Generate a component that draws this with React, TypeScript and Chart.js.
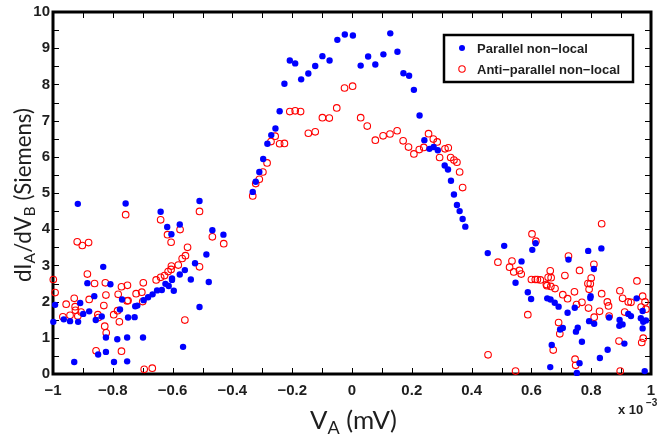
import React, { useEffect, useRef } from "react";
import { Chart, registerables } from "chart.js";

Chart.register(...registerables);

const xTickValues = [-1, -0.8, -0.6, -0.4, -0.2, 0, 0.2, 0.4, 0.6, 0.8, 1];
const yTickValues = [0, 1, 2, 3, 4, 5, 6, 7, 8, 9, 10];
const seriesLabels = ["Parallel non\u2212local", "Anti\u2212parallel non\u2212local"];

const parallelX = [
  -0.999, -0.993, -0.964, -0.943, -0.929, -0.917, -0.916, -0.909, -0.899, -0.885, -0.879, -0.862, -0.857, -0.849,
  -0.837, -0.832, -0.823, -0.823, -0.808, -0.796, -0.785, -0.776, -0.769, -0.757, -0.752, -0.752, -0.749, -0.727,
  -0.725, -0.718, -0.699, -0.697, -0.682, -0.667, -0.652, -0.64, -0.636, -0.624, -0.618, -0.613, -0.604, -0.602,
  -0.602, -0.596, -0.576, -0.576, -0.565, -0.559, -0.539, -0.525, -0.51, -0.51, -0.487, -0.479, -0.467, -0.43,
  -0.332, -0.322, -0.31, -0.297, -0.283, -0.27, -0.256, -0.242, -0.226, -0.208, -0.19, -0.17, -0.146, -0.123,
  -0.099, -0.075, -0.049, -0.024, 0.003, 0.029, 0.054, 0.078, 0.105, 0.128, 0.152, 0.172, 0.191, 0.207, 0.226,
  0.242, 0.259, 0.273, 0.287, 0.31, 0.321, 0.331, 0.341, 0.351, 0.36, 0.37, 0.379,
  0.454, 0.509, 0.547, 0.567, 0.588, 0.599, 0.603, 0.614, 0.653, 0.663, 0.664, 0.668, 0.678, 0.691, 0.696, 0.705,
  0.721, 0.724, 0.745, 0.749, 0.752, 0.755, 0.761, 0.769, 0.79, 0.793, 0.797, 0.798, 0.809, 0.81, 0.829, 0.834,
  0.855, 0.86, 0.894, 0.895, 0.905, 0.911, 0.924, 0.933, 0.952, 0.966, 0.972, 0.972, 0.974, 0.979, 0.983,
];
const parallelY = [
  1.44, 1.91, 1.51, 1.46, 0.33, 4.7, 1.44, 1.96, 1.66, 2.51, 1.73, 2.15, 1.49, 0.54,
  1.59, 2.96, 1.01, 0.61, 2.48, 0.33, 0.96, 1.78, 2.06, 4.71, 1.01, 0.35, 1.56, 1.57,
  1.87, 1.89, 1.01, 2.04, 2.12, 2.2, 2.31, 4.48, 2.32, 2.49, 4.06, 2.43, 3.86, 2.6,
  2.64, 2.3, 4.13, 2.75, 0.75, 2.87, 2.61, 3.06, 4.78, 1.85, 3.3, 2.54, 3.97, 3.85,
  5.03, 5.31, 5.58, 5.94, 6.36, 6.6, 6.78, 7.26, 8.02, 8.66, 8.58, 8.14, 8.3, 8.51,
  8.78, 8.66, 9.23, 9.38, 9.35, 8.52, 8.77, 8.55, 8.83, 9.41, 8.9, 8.31, 8.24, 7.85, 7.14,
  6.46, 6.22, 6.27, 6.18, 5.76, 5.65, 5.34, 4.96, 4.67, 4.5, 4.28, 4.07,
  3.34, 3.54, 2.52, 3.11, 2.26, 2.07, 3.43, 3.61, 2.09, 0.19, 2.06, 0.8, 1.97, 1.86, 1.23, 1.27,
  1.69, 3.16, 1.83, 1.17, 0.03, 1.28, 0.3, 0.89, 3.4, 1.46, 2.1, 2.15, 2.9, 1.39, 0.44, 3.47,
  0.67, 1.56, 1.33, 1.49, 1.37, 0.84, 1.66, 1.6, 2.09, 1.54, 1.26, 1.74, 1.44, 0.08, 1.48,
];

const antiX = [
  -0.999, -0.993, -0.967, -0.956, -0.943, -0.929, -0.926, -0.925, -0.919, -0.917, -0.906, -0.902, -0.885, -0.881,
  -0.879, -0.861, -0.856, -0.85, -0.848, -0.83, -0.827, -0.825, -0.823, -0.822, -0.797, -0.784, -0.782, -0.778,
  -0.771, -0.771, -0.757, -0.752, -0.751, -0.749, -0.722, -0.703, -0.7, -0.698, -0.695, -0.668, -0.655, -0.64,
  -0.64, -0.627, -0.617, -0.615, -0.605, -0.605, -0.604, -0.581, -0.575, -0.568, -0.559, -0.557, -0.55, -0.51,
  -0.51, -0.467, -0.429,
  -0.332, -0.322, -0.31, -0.298, -0.284, -0.271, -0.257, -0.242, -0.226, -0.208, -0.19, -0.172, -0.146, -0.123,
  -0.099, -0.076, -0.051, -0.025, 0.002, 0.029, 0.051, 0.078, 0.104, 0.127, 0.151, 0.171, 0.189, 0.207, 0.225,
  0.24, 0.256, 0.272, 0.285, 0.293, 0.311, 0.322, 0.33, 0.341, 0.351, 0.36, 0.37,
  0.455, 0.488, 0.527, 0.535, 0.541, 0.547, 0.56, 0.566, 0.588, 0.6, 0.602, 0.613, 0.615, 0.62, 0.63, 0.65,
  0.652, 0.656, 0.663, 0.665, 0.666, 0.673, 0.679, 0.691, 0.695, 0.705, 0.712, 0.721, 0.724, 0.744, 0.746, 0.748,
  0.751, 0.761, 0.769, 0.789, 0.791, 0.793, 0.797, 0.8, 0.809, 0.81, 0.828, 0.835, 0.835, 0.854, 0.858, 0.86,
  0.893, 0.896, 0.897, 0.905, 0.912, 0.924, 0.933, 0.953, 0.967, 0.969, 0.972, 0.974, 0.98, 0.983,
];
const antiY = [
  2.61, 2.25, 1.58, 1.93, 1.62, 2.09, 1.86, 1.76, 3.65, 1.6, 1.71, 3.55, 2.76, 3.63,
  2.06, 2.5, 0.64, 1.64, 1.56, 1.89, 1.32, 2.52, 2.18, 1.14, 1.64, 1.75, 2.2, 1.44,
  2.41, 0.63, 4.4, 2.02, 2.45, 2.03, 2.22, 2.26, 2.0, 2.52, 0.13, 0.16, 2.6, 4.26,
  2.67, 2.72, 3.85, 2.83, 3.64, 2.89, 2.98, 3.01, 3.99, 3.19, 1.49, 3.27, 3.5, 4.49,
  2.96, 3.79, 3.6,
  4.92, 5.26, 5.38, 5.58, 5.83, 6.42, 6.57, 6.36, 6.37, 7.25, 7.27, 7.25, 6.65, 6.69,
  7.08, 7.07, 7.35, 7.9, 7.95, 7.08, 6.85, 6.46, 6.58, 6.63, 6.72, 6.44, 6.27, 6.08, 6.2,
  6.26, 6.64, 6.49, 6.41, 5.98, 6.22, 6.25, 5.98, 5.91, 5.85, 5.58, 5.15,
  0.53, 3.09, 2.95, 3.12, 2.82, 0.08, 2.86, 2.76, 1.64, 2.61, 3.87, 2.61, 3.67, 2.61, 2.6, 2.47,
  2.44, 2.67, 2.85, 2.42, 2.66, 0.66, 2.36, 1.42, 1.11, 2.19, 2.72, 2.08, 3.26, 2.27, 0.41, 0.24,
  1.92, 2.86, 1.98, 2.5, 1.82, 2.34, 2.49, 2.65, 3.03, 1.57, 1.73, 4.15, 2.22, 1.99, 1.88, 1.6,
  0.91, 2.3, 0.08, 2.09, 1.71, 1.99, 1.98, 2.57, 1.85, 0.87, 2.15, 0.99, 1.99, 1.79,
];

const TEXT = "#1e1e1e";
const TICK_FONT = "'Liberation Sans', Arial, Helvetica, sans-serif";
const TITLE_FONT = "Lato, 'Open Sans', sans-serif";

function fmtTick(v: number): string {
  const r = Math.round(v * 10) / 10;
  if (r < 0) return "\u2212" + String(Math.abs(r));
  return String(r);
}

type Seg = { t: string; sub?: boolean };

// draws text segments centred at the origin, scaled so the total width matches `target`
function drawSegs(ctx: CanvasRenderingContext2D, segs: Seg[], target: number) {
  const base = 24;
  const measure = (size: number) => {
    let total = 0;
    for (const s of segs) {
      ctx.font = `${s.sub ? size * 0.7 : size}px ${TITLE_FONT}`;
      total += ctx.measureText(s.t).width;
    }
    return total;
  };
  const w0 = measure(base);
  const size = Math.max(16, Math.min(30, (base * target) / w0));
  const total = measure(size);
  let x = -total / 2;
  for (const s of segs) {
    ctx.font = `${s.sub ? size * 0.7 : size}px ${TITLE_FONT}`;
    ctx.fillText(s.t, x, s.sub ? size * 0.2 : 0);
    x += ctx.measureText(s.t).width;
  }
}

const framePlugin = {
  id: "frame",
  beforeDatasetsDraw(chart: any) {
    const { ctx, chartArea: a, scales } = chart;
    ctx.save();
    ctx.strokeStyle = "#000";
    ctx.lineWidth = 1;
    for (let i = -10; i <= 10; i++) {
      const px = Math.round(scales.x.getPixelForValue(i / 10)) + 0.5;
      ctx.beginPath();
      ctx.moveTo(px, a.bottom);
      ctx.lineTo(px, a.bottom - 6);
      ctx.moveTo(px, a.top);
      ctx.lineTo(px, a.top + 6);
      ctx.stroke();
    }
    for (let i = 0; i <= 20; i++) {
      const py = Math.round(scales.y.getPixelForValue(i / 2)) + 0.5;
      ctx.beginPath();
      ctx.moveTo(a.left, py);
      ctx.lineTo(a.left + 6, py);
      ctx.moveTo(a.right, py);
      ctx.lineTo(a.right - 6, py);
      ctx.stroke();
    }
    ctx.lineWidth = 3;
    ctx.strokeRect(a.left, a.top, a.right - a.left, a.bottom - a.top);
    ctx.restore();
  },
  afterDraw(chart: any) {
    const { ctx } = chart;
    ctx.save();
    ctx.fillStyle = TEXT;
    ctx.textBaseline = "alphabetic";
    ctx.textAlign = "left";
    // x title
    ctx.save();
    ctx.translate(353.5, 429);
    drawSegs(ctx, [{ t: "V" }, { t: "A", sub: true }, { t: " (mV)" }], 87);
    ctx.restore();
    // y title
    ctx.save();
    ctx.translate(31, 195);
    ctx.rotate(-Math.PI / 2);
    drawSegs(ctx, [{ t: "dI" }, { t: "A", sub: true }, { t: "/dV" }, { t: "B", sub: true }, { t: " (Siemens)" }], 174);
    ctx.restore();
    // exponent
    ctx.font = `bold 13px ${TICK_FONT}`;
    ctx.fillText("x 10", 618, 414);
    ctx.font = `bold 10px ${TICK_FONT}`;
    ctx.fillText("\u22123", 646, 406);

    // legend
    const lx = 444, ly = 35, lw = 189, lh = 47;
    ctx.fillStyle = "#fff";
    ctx.fillRect(lx, ly, lw, lh);
    ctx.strokeStyle = "#000";
    ctx.lineWidth = 2.5;
    ctx.strokeRect(lx, ly, lw, lh);
    const ds = chart.data.datasets;
    const rows = [48, 69];
    for (let i = 0; i < 2; i++) {
      const d = ds[i];
      ctx.beginPath();
      ctx.arc(462, rows[i], i === 0 ? 3 : 3.2, 0, Math.PI * 2);
      if (i === 0) {
        ctx.fillStyle = d.backgroundColor;
        ctx.fill();
      } else {
        ctx.strokeStyle = d.borderColor;
        ctx.lineWidth = 1.1;
        ctx.stroke();
      }
      ctx.fillStyle = TEXT;
      ctx.font = `bold 13px ${TICK_FONT}`;
      ctx.textBaseline = "middle";
      ctx.fillText(d.label, 477, rows[i] + 1);
    }
    ctx.restore();
  },
};

export default function App() {
  const ref = useRef<HTMLCanvasElement>(null);
  useEffect(() => {
    const canvas = ref.current;
    if (!canvas) return;
    const chart = new Chart(canvas, {
      type: "scatter",
      data: {
        datasets: [
          {
            label: seriesLabels[0],
            data: parallelX.map((x, i) => ({ x, y: parallelY[i] })),
            pointRadius: 3.2,
            pointBackgroundColor: "#0000ff",
            pointBorderColor: "#0000ff",
            pointBorderWidth: 0,
            backgroundColor: "#0000ff",
            borderColor: "#0000ff",
            clip: false,
          } as any,
          {
            label: seriesLabels[1],
            data: antiX.map((x, i) => ({ x, y: antiY[i] })),
            pointRadius: 3.3,
            pointBackgroundColor: "rgba(0,0,0,0)",
            pointBorderColor: "#ff0000",
            pointBorderWidth: 1.1,
            backgroundColor: "rgba(0,0,0,0)",
            borderColor: "#ff0000",
            clip: false,
          } as any,
        ],
      },
      options: {
        responsive: false,
        animation: false,
        devicePixelRatio: 1,
        layout: { padding: { left: 0, top: 12, right: 16, bottom: 0 } },
        plugins: { legend: { display: false }, tooltip: { enabled: false } },
        scales: {
          x: {
            type: "linear",
            min: -1,
            max: 1,
            afterFit: (s: any) => {
              s.height = 68;
            },
            afterBuildTicks: (s: any) => {
              s.ticks = xTickValues.map((v) => ({ value: v }));
            },
            grid: { display: false, drawTicks: false },
            border: { display: false },
            ticks: {
              callback: (v: any) => fmtTick(Number(v)),
              font: { family: TICK_FONT, weight: "bold", size: 15 },
              color: TEXT,
              padding: 8,
              maxRotation: 0,
              autoSkip: false,
            },
          },
          y: {
            type: "linear",
            min: 0,
            max: 10,
            afterFit: (s: any) => {
              s.width = 53;
            },
            afterBuildTicks: (s: any) => {
              s.ticks = yTickValues.map((v) => ({ value: v }));
            },
            grid: { display: false, drawTicks: false },
            border: { display: false },
            ticks: {
              callback: (v: any) => fmtTick(Number(v)),
              font: { family: TICK_FONT, weight: "bold", size: 15 },
              color: TEXT,
              padding: 3,
              autoSkip: false,
            },
          },
        },
      } as any,
      plugins: [framePlugin],
    });
    return () => chart.destroy();
  }, []);
  return (
    <div style={{ position: "fixed", left: 0, top: 0, width: 667, height: 442, background: "#fff" }}>
      <canvas ref={ref} width={667} height={442} style={{ width: 667, height: 442, display: "block" }} />
    </div>
  );
}
